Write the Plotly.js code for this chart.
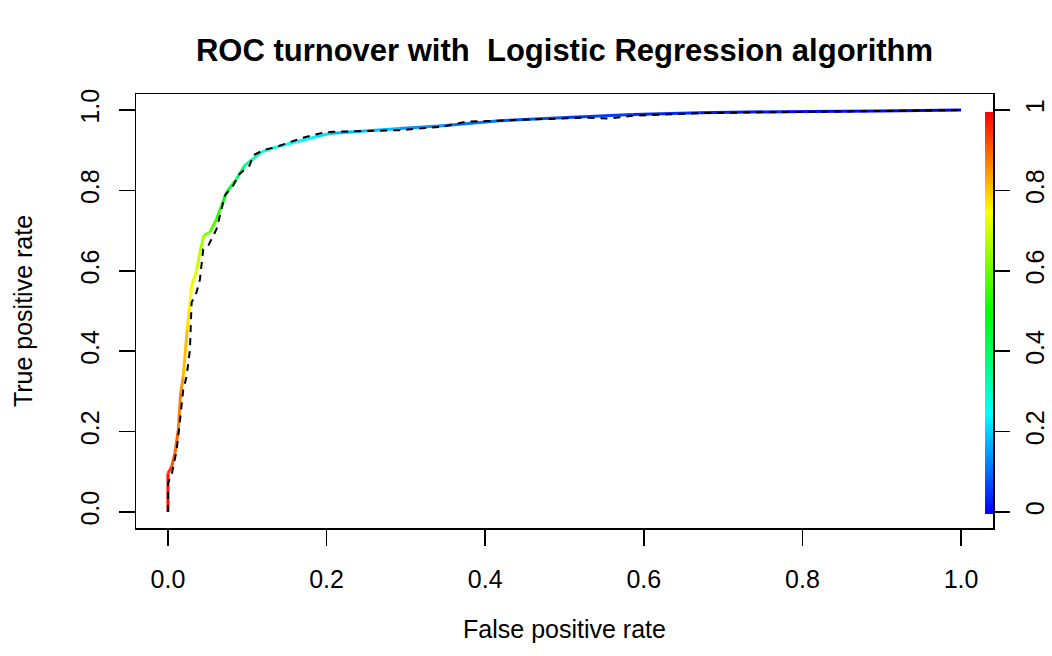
<!DOCTYPE html>
<html><head><meta charset="utf-8">
<script src="https://cdn.plot.ly/plotly-3.0.1.min.js"></script>
<style>body{margin:0;background:#fff}#chart{width:1052px;height:656px}</style>
</head><body><div id="chart"></div>
<script>
// Logistic Regression ROC curve (coloured by cutoff)
const fprLR = [0, 0, 0.0046, 0.0088, 0.013, 0.016, 0.0193, 0.0243, 0.0269, 0.0298, 0.036, 0.0403, 0.0453, 0.053, 0.0613, 0.0676, 0.074, 0.0865, 0.097, 0.1075, 0.118, 0.137, 0.162, 0.187, 0.204, 0.292, 0.346, 0.418, 0.502, 0.586, 0.67, 0.771, 0.897, 1.0];
const tprLR = [0, 0.096, 0.112, 0.146, 0.204, 0.296, 0.3375, 0.454, 0.504, 0.5625, 0.6, 0.646, 0.689, 0.696, 0.729, 0.7625, 0.796, 0.829, 0.8625, 0.879, 0.896, 0.9085, 0.921, 0.9335, 0.942, 0.954, 0.961, 0.9735, 0.9818, 0.989, 0.9935, 0.996, 0.998, 1.0];
const cutoffLR = [1.0, 0.97, 0.93, 0.91, 0.89, 0.86, 0.84, 0.79, 0.77, 0.74, 0.71, 0.68, 0.64, 0.60, 0.56, 0.52, 0.47, 0.42, 0.37, 0.33, 0.30, 0.27, 0.25, 0.23, 0.21, 0.16, 0.13, 0.10, 0.07, 0.05, 0.035, 0.02, 0.01, 0.0];
// Dashed reference ROC curve
const fprRef = [0, 0, 0.005, 0.011, 0.0143, 0.0193, 0.0235, 0.0277, 0.0298, 0.036, 0.0403, 0.0445, 0.0508, 0.0613, 0.0676, 0.0718, 0.0823, 0.0907, 0.103, 0.1075, 0.12, 0.137, 0.149, 0.17, 0.196, 0.208, 0.292, 0.346, 0.376, 0.46, 0.523, 0.557, 0.586, 0.67, 0.771, 0.897, 1.0];
const tprRef = [0, 0.071, 0.096, 0.154, 0.2125, 0.304, 0.3375, 0.404, 0.521, 0.546, 0.579, 0.654, 0.6625, 0.704, 0.754, 0.7875, 0.8125, 0.842, 0.8625, 0.8875, 0.9, 0.9085, 0.917, 0.931, 0.944, 0.946, 0.95, 0.9585, 0.971, 0.9775, 0.981, 0.979, 0.986, 0.9925, 0.995, 0.998, 1.0];

const axisTickVals = [0, 0.2, 0.4, 0.6, 0.8, 1];
const axisTickText = ['0.0', '0.2', '0.4', '0.6', '0.8', '1.0'];
const cutoffTickText = ['0', '0.2', '0.4', '0.6', '0.8', '1'];

const FONT = 'Liberation Sans, Arial, Helvetica, sans-serif';

function rainbow(c) {
  const h = Math.max(0, Math.min(4, (1 - c) * 4));
  const i = Math.min(Math.floor(h), 3), f = h - i;
  let r, g, b;
  if (i === 0) { r = 1; g = f; b = 0; }
  else if (i === 1) { r = 1 - f; g = 1; b = 0; }
  else if (i === 2) { r = 0; g = 1; b = f; }
  else { r = 0; g = 1 - f; b = 1; }
  return 'rgb(' + Math.round(r * 255) + ',' + Math.round(g * 255) + ',' + Math.round(b * 255) + ')';
}
const rainbowScale = [0, 0.125, 0.25, 0.375, 0.5, 0.625, 0.75, 0.875, 1].map(v => [v, rainbow(v)]);

const traces = [];
for (let k = 0; k < fprLR.length - 1; k++) {
  traces.push({
    type: 'scatter', mode: 'lines',
    x: [fprLR[k], fprLR[k + 1]], y: [tprLR[k], tprLR[k + 1]],
    line: {color: rainbow((cutoffLR[k] + cutoffLR[k + 1]) / 2), width: 3},
    hoverinfo: 'skip', showlegend: false
  });
}
traces.push({
  type: 'scatter', mode: 'lines', x: fprRef, y: tprRef,
  line: {color: 'black', width: 2, dash: '7px,6px'},
  hoverinfo: 'skip', showlegend: false
});
// colour key (cutoff scale)
traces.push({
  type: 'scatter', mode: 'markers', x: fprLR, y: tprLR,
  marker: {
    color: cutoffLR, cmin: 0, cmax: 1, colorscale: rainbowScale, opacity: 0, size: 1,
    showscale: true,
    colorbar: {
      thickness: 8, thicknessmode: 'pixels', len: 402, lenmode: 'pixels',
      x: 0.9907, xanchor: 'left', xpad: 0, y: 0.496, yanchor: 'middle', ypad: 0,
      outlinewidth: 0, ticks: '', showticklabels: false
    }
  },
  hoverinfo: 'skip', showlegend: false
});
// right-hand cutoff axis labels
traces.push({
  type: 'scatter', mode: 'markers', x: fprLR, y: cutoffLR, yaxis: 'y2',
  marker: {opacity: 0, size: 1}, hoverinfo: 'skip', showlegend: false
});

const tickFont = {family: FONT, size: 25, color: 'black'};
const layout = {
  width: 1052, height: 656,
  paper_bgcolor: 'white', plot_bgcolor: 'white',
  margin: {l: 136, r: 59, t: 94, b: 128, autoexpand: false},
  showlegend: false,
  font: {family: FONT, color: 'black'},
  title: {
    text: 'ROC turnover with \u00a0Logistic Regression algorithm',
    font: {family: FONT, size: 31, weight: 'bold', color: 'black'},
    x: 0.5, xref: 'paper', xanchor: 'center',
    y: 1 - 50 / 656, yref: 'container', yanchor: 'middle'
  },
  xaxis: {
    range: [-0.0403, 1.0403], showline: true, mirror: true, linecolor: 'black', linewidth: 1.5,
    ticks: 'outside', ticklen: 16, tickwidth: 1.5, tickcolor: 'black', ticklabelstandoff: 12,
    tickvals: axisTickVals, ticktext: axisTickText, tickfont: tickFont,
    showgrid: false, zeroline: false, automargin: false,
    title: {text: 'False positive rate', font: {family: FONT, size: 25, color: 'black'}, standoff: 29}
  },
  yaxis: {
    range: [-0.04, 1.04], showline: true, mirror: true, linecolor: 'black', linewidth: 1.5,
    ticks: 'outside', ticklen: 16, tickwidth: 1.5, tickcolor: 'black', ticklabelstandoff: 10,
    tickvals: axisTickVals, ticktext: axisTickText, tickangle: -90, tickfont: tickFont,
    showgrid: false, zeroline: false, automargin: false,
    title: {text: 'True positive rate', font: {family: FONT, size: 25, color: 'black'}, standoff: 36}
  },
  yaxis2: {
    overlaying: 'y', side: 'right', range: [-0.04, 1.04], showline: false,
    ticks: 'outside', ticklen: 16, tickwidth: 1.5, tickcolor: 'black', ticklabelstandoff: 4,
    tickvals: axisTickVals, ticktext: cutoffTickText, tickangle: -90, tickfont: tickFont,
    showgrid: false, zeroline: false, automargin: false
  }
};

Plotly.newPlot('chart', traces, layout, {staticPlot: true, displayModeBar: false});
</script>
</body></html>
